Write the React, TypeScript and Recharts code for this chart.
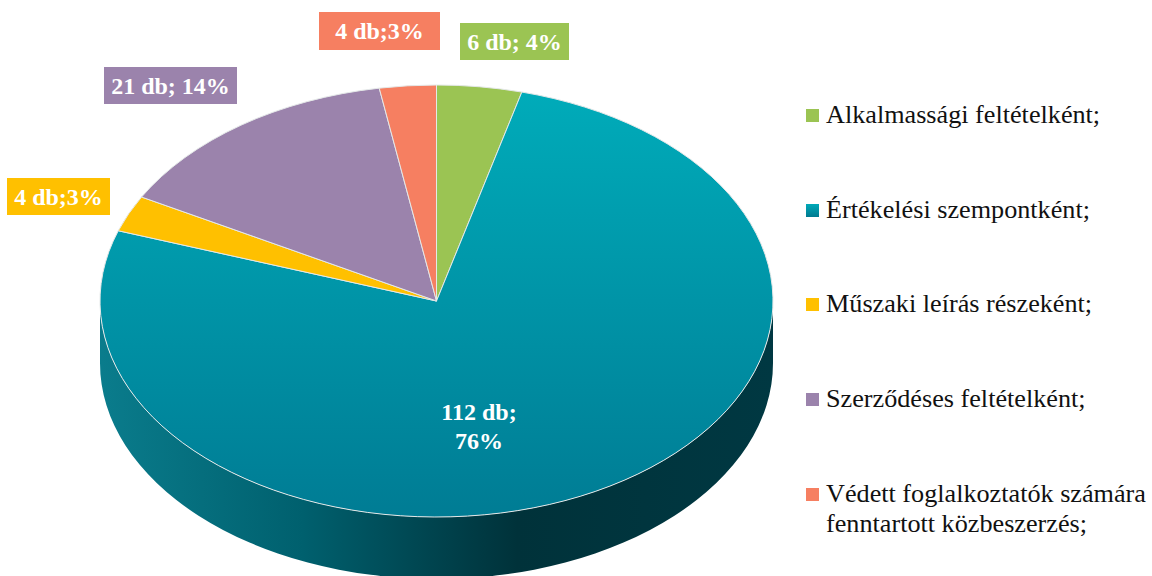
import { PieChart, Pie, Legend } from "recharts"

const categories = [
  "Alkalmassági feltételként;",
  "Értékelési szempontként;",
  "Műszaki leírás részeként;",
  "Szerződéses feltételként;",
  "Védett foglalkoztatók számára fenntartott közbeszerzés;",
]
const counts = [6, 112, 4, 21, 4]
const labelTexts = ["6 db; 4%", "112 db;\n76%", "4 db;3%", "21 db; 14%", "4 db;3%"]
const colors = ["#9bc453", "url(#topTeal)", "#ffc000", "#9b83ac", "#f67f61"]
const legendColors = [
  "#9bc453",
  "linear-gradient(#00a9b8, #007a90)",
  "#ffc000",
  "#9b83ac",
  "#f67f61",
]

const data = categories.map((name, i) => ({ name, value: counts[i], fill: colors[i] }))

// layout only: where the callout boxes and legend rows sit
const labelBoxes = [
  { x: 460, y: 23, w: 109, h: 37 },
  { x: 429, y: 393, w: 100, h: 58 },
  { x: 7, y: 178, w: 103, h: 37 },
  { x: 104, y: 67, w: 133, h: 37 },
  { x: 319, y: 12, w: 121, h: 38 },
]
const legendTops = [100, 195, 289, 384, 479]

const FONT = '"Liberation Serif", serif'
const TILT = 216 / 336.5
const DEPTH = 62

function point(cx: number, cy: number, r: number, deg: number) {
  const a = (deg * Math.PI) / 180
  return [cx + r * Math.cos(a), cy - r * TILT * Math.sin(a)]
}

function EllipticSector(props: any) {
  const { cx, cy, outerRadius: r, startAngle, endAngle, fill, index } = props
  const [x1, y1] = point(cx, cy, r, startAngle)
  const [x2, y2] = point(cx, cy, r, endAngle)
  const large = Math.abs(startAngle - endAngle) > 180 ? 1 : 0
  const ry = r * TILT
  return (
    <g>
      {index === 1 && (
        <path
          d={`M${cx - r},${cy} A${r},${ry} 0 0 0 ${cx + r},${cy} L${cx + r},${cy + DEPTH} A${r},${ry} 0 0 1 ${cx - r},${cy + DEPTH} Z`}
          fill="url(#wallTeal)"
        />
      )}
      <path
        d={`M${cx},${cy} L${x1},${y1} A${r},${ry} 0 ${large} 1 ${x2},${y2} Z`}
        fill={fill}
        stroke="#e4e8e8"
        strokeWidth={1}
        strokeLinejoin="round"
      />
    </g>
  )
}

function renderLabel(props: any) {
  const { index } = props
  const box = labelBoxes[index]
  const lines = labelTexts[index].split("\n")
  const isBoxed = lines.length === 1
  const midX = box.x + box.w / 2
  return (
    <g key={index}>
      {isBoxed && <rect x={box.x} y={box.y} width={box.w} height={box.h} fill={colors[index]} />}
      {lines.map((line, i) => (
        <text
          key={i}
          x={midX}
          y={box.y + 27 + i * 29}
          textAnchor="middle"
          fill="#ffffff"
          fontFamily={FONT}
          fontWeight="bold"
          fontSize={24}
        >
          {line}
        </text>
      ))}
    </g>
  )
}

function ChartLegend() {
  return (
    <div style={{ position: "absolute", left: 0, top: 0, width: 0, height: 0 }}>
      {categories.map((name, i) => (
        <div key={name}>
          <div
            style={{
              position: "absolute",
              left: 806,
              top: legendTops[i] + 9,
              width: 13,
              height: 13,
              background: legendColors[i],
            }}
          />
          <div
            style={{
              position: "absolute",
              left: 826,
              top: legendTops[i],
              width: 326,
              fontFamily: FONT,
              fontSize: 26.2,
              lineHeight: "30px",
              color: "#111111",
            }}
          >
            {name}
          </div>
        </div>
      ))}
    </div>
  )
}

export default function App() {
  return (
    <div style={{ position: "absolute", left: 0, top: 0, width: 1152, height: 576, overflow: "hidden" }}>
      <PieChart width={1152} height={576} margin={{ top: 0, right: 0, bottom: 0, left: 0 }}>
        <defs>
          <linearGradient id="topTeal" gradientUnits="userSpaceOnUse" x1="0" y1="85" x2="0" y2="517">
            <stop offset="0%" stopColor="#00acba" />
            <stop offset="100%" stopColor="#007c94" />
          </linearGradient>
          <linearGradient id="wallTeal" gradientUnits="userSpaceOnUse" x1="101" y1="0" x2="773" y2="0">
            <stop offset="0%" stopColor="#0a7c8c" />
            <stop offset="30%" stopColor="#00606e" />
            <stop offset="52%" stopColor="#00404a" />
            <stop offset="62%" stopColor="#00323a" />
            <stop offset="100%" stopColor="#003842" />
          </linearGradient>
        </defs>
        <Pie
          data={data}
          dataKey="value"
          nameKey="name"
          cx={436.5}
          cy={301}
          outerRadius={336.5}
          startAngle={90}
          endAngle={-270}
          isAnimationActive={false}
          shape={EllipticSector}
          label={renderLabel}
          labelLine={false}
        />
        <Legend content={ChartLegend} wrapperStyle={{ position: "absolute", left: 0, top: 0, width: 0, height: 0 }} />
      </PieChart>
    </div>
  )
}
